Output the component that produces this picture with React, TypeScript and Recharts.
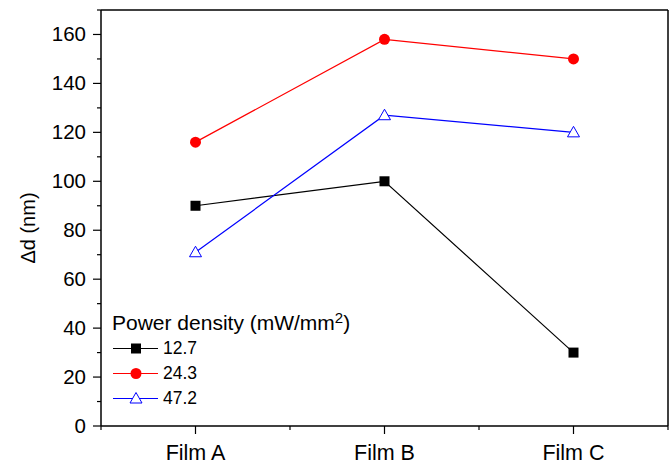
import React from "react";
import {
  LineChart,
  Line,
  XAxis,
  YAxis,
  Legend,
  ReferenceLine,
} from "recharts";

const categories = ["Film A", "Film B", "Film C"];
const p127 = [90, 100, 30];
const p243 = [116, 158, 150];
const p472 = [71, 127, 120];
const seriesNames = ["12.7", "24.3", "47.2"];
const yTicks = [0, 10, 20, 30, 40, 50, 60, 70, 80, 90, 100, 110, 120, 130, 140, 150, 160, 170];
const xTicks = [0, 0.5, 1, 1.5, 2, 2.5, 3];

const data = categories.map((name, i) => ({
  x: i + 0.5,
  name,
  s127: p127[i],
  s243: p243[i],
  s472: p472[i],
}));

const FONT = "'Liberation Sans', Arial, sans-serif";

function YTick(props: any) {
  const { x, y, payload } = props;
  const v = payload.value as number;
  const major = v % 20 === 0;
  return (
    <g>
      <line x1={x - (major ? 8 : 4)} x2={x} y1={y} y2={y} stroke="#000" strokeWidth={1.2} />
      {major && v <= 160 && (
        <text x={x - 15} y={y} dy={7} textAnchor="end" fontSize={20.5} fill="#000" fontFamily={FONT}>
          {v}
        </text>
      )}
    </g>
  );
}

function XTick(props: any) {
  const { x, y, payload } = props;
  const v = payload.value as number;
  const major = !Number.isInteger(v);
  const label = major ? categories[Math.floor(v)] : null;
  return (
    <g>
      <line x1={x} x2={x} y1={y} y2={y + (major ? 8 : 4)} stroke="#000" strokeWidth={1.2} />
      {label && (
        <text x={x} y={y + 34} textAnchor="middle" fontSize={21.5} fill="#000" fontFamily={FONT}>
          {label}
        </text>
      )}
    </g>
  );
}

const SquareDot = (props: any) => {
  const { cx, cy, index } = props;
  return <rect key={`sq-${index}`} x={cx - 5} y={cy - 5} width={10} height={10} fill="#000" />;
};

const CircleDot = (props: any) => {
  const { cx, cy, index } = props;
  return <circle key={`ci-${index}`} cx={cx} cy={cy} r={5.5} fill="#ff0000" />;
};

const TriangleDot = (props: any) => {
  const { cx, cy, index } = props;
  const s = 6;
  return (
    <polygon
      key={`tr-${index}`}
      points={`${cx},${cy - s} ${cx - s},${cy + s * 0.75} ${cx + s},${cy + s * 0.75}`}
      fill="#fff"
      stroke="#0000ff"
      strokeWidth={1}
    />
  );
};

function LegendMarker({ kind, color }: { kind: number; color: string }) {
  return (
    <svg width={50} height={25} style={{ display: "block" }}>
      <line x1={1} x2={46} y1={12.5} y2={12.5} stroke={color} strokeWidth={1.2} />
      {kind === 0 && <rect x={19} y={7.5} width={10} height={10} fill="#000" />}
      {kind === 1 && <circle cx={24} cy={12.5} r={5.5} fill="#ff0000" />}
      {kind === 2 && (
        <polygon points="24,6.5 18,17 30,17" fill="#fff" stroke="#0000ff" strokeWidth={1} />
      )}
    </svg>
  );
}

const legendColors = ["#000000", "#ff0000", "#0000ff"];

function LegendBox() {
  return (
    <div style={{ fontFamily: FONT, color: "#000" }}>
      <div style={{ fontSize: 21, lineHeight: "22px", whiteSpace: "nowrap" }}>
        Power density (mW/mm
        <span style={{ fontSize: 15, position: "relative", top: -7 }}>2</span>)
      </div>
      {seriesNames.map((n, i) => (
        <div key={n} style={{ display: "flex", alignItems: "center", height: 25 }}>
          <LegendMarker kind={i} color={legendColors[i]} />
          <span style={{ fontSize: 17.5, marginLeft: 1 }}>{n}</span>
        </div>
      ))}
    </div>
  );
}

export default function App() {
  return (
    <div style={{ position: "absolute", left: 0, top: 0, background: "#fff" }}>
      <LineChart
        width={672}
        height={465}
        data={data}
        margin={{ top: 10, right: 4, left: 0, bottom: 0 }}
        style={{ fontFamily: FONT }}
      >
        <XAxis
          dataKey="x"
          type="number"
          domain={[0, 3]}
          ticks={xTicks}
          interval={0}
          height={39}
          tickSize={0}
          tickMargin={0}
          tickLine={false}
          axisLine={{ stroke: "#000", strokeWidth: 1.5 }}
          tick={<XTick />}
        />
        <YAxis
          type="number"
          domain={[0, 170]}
          ticks={yTicks}
          interval={0}
          width={101}
          tickSize={0}
          tickMargin={0}
          tickLine={false}
          axisLine={{ stroke: "#000", strokeWidth: 1.5 }}
          tick={<YTick />}
          label={{
            content: () => (
              <text
                transform="translate(35,228) rotate(-90)"
                textAnchor="middle"
                fontSize={20}
                fill="#000"
                fontFamily={FONT}
              >
                Δd (nm)
              </text>
            ),
          }}
        />
        <ReferenceLine y={170} stroke="#000" strokeWidth={1.5} />
        <ReferenceLine x={3} stroke="#000" strokeWidth={1.5} />
        <Legend
          layout="vertical"
          align="center"
          verticalAlign="middle"
          wrapperStyle={{ left: 112, top: 312, width: 280 }}
          content={() => <LegendBox />}
        />
        <Line
          dataKey="s127"
          name="12.7"
          stroke="#000000"
          strokeWidth={1.2}
          dot={SquareDot}
          activeDot={false}
          isAnimationActive={false}
        />
        <Line
          dataKey="s243"
          name="24.3"
          stroke="#ff0000"
          strokeWidth={1.2}
          dot={CircleDot}
          activeDot={false}
          isAnimationActive={false}
        />
        <Line
          dataKey="s472"
          name="47.2"
          stroke="#0000ff"
          strokeWidth={1.2}
          dot={TriangleDot}
          activeDot={false}
          isAnimationActive={false}
        />
      </LineChart>
    </div>
  );
}
